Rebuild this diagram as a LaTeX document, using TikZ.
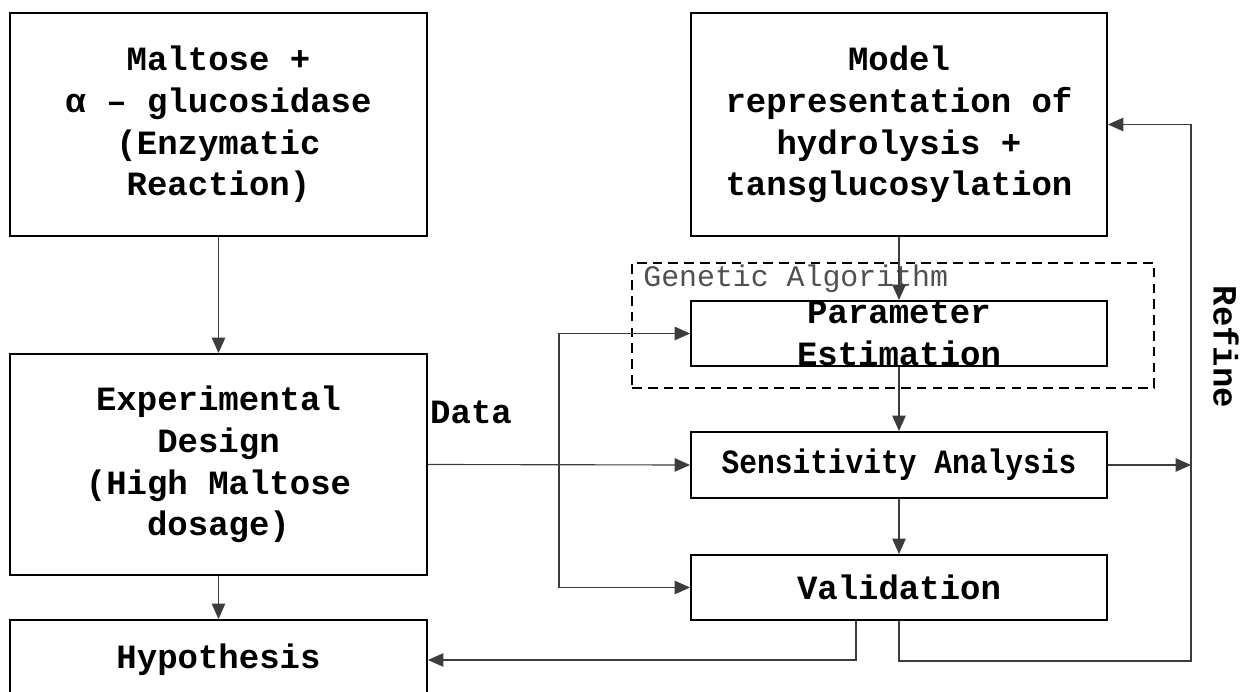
\documentclass[tikz,border=0pt]{standalone}
\usepackage{fontspec}
\setmainfont{Liberation Mono}
\newfontfamily\narrowmono[FakeStretch=0.87]{Liberation Mono}
\usetikzlibrary{positioning,arrows.meta,calc}
\definecolor{LineGrey}{RGB}{60,60,60}
\definecolor{LabelGrey}{RGB}{80,80,80}
\tikzset{
  flow/.style={-{Triangle[length=3.1mm,width=2.7mm]},line width=0.65pt,draw=LineGrey},
  biflow/.style={{Triangle[length=3.1mm,width=2.7mm]}-{Triangle[length=3.1mm,width=2.7mm]},
    line width=0.65pt,draw=LineGrey},
  box/.style={draw=black,line width=1.1pt,fill=white,align=center,inner sep=0pt,
    font=\fontsize{19.35}{23.7}\selectfont\bfseries},
  bigbox/.style={box,minimum width=8.34cm,minimum height=4.46cm},
  stepbox/.style={box,minimum width=8.32cm,minimum height=1.3cm},
  gabox/.style={draw=black,dashed,dash pattern=on 5.5pt off 3.5pt,line width=0.9pt,
    minimum width=10.44cm,minimum height=2.5cm,inner sep=0pt},
  tag/.style={font=\fontsize{19.35}{23.7}\selectfont\bfseries,inner sep=0pt}
}

\begin{document}
\begin{tikzpicture}[x=0.02cm,y=-0.02cm]
  \useasboundingbox (0,0) rectangle (1240,692);

  % left column
  \node[bigbox] (malt) at (218.5,124.5) {Maltose +\\α – glucosidase\\(Enzymatic\\Reaction)};
  \node[bigbox,minimum height=4.42cm] (expt) at (218.5,464.5) {Experimental\\Design\\(High Maltose\\dosage)};
  \node[box,minimum width=8.34cm,minimum height=1.6cm] (hypo) at (218.5,660) {Hypothesis};

  % right column
  \node[bigbox,minimum width=8.32cm] (model) at (899,124.5) {Model\\representation of\\hydrolysis +\\tansglucosylation};
  \node[gabox] (ga) at (893,325.5) {};
  \node[tag,font=\fontsize{17}{20}\selectfont,text=LabelGrey,anchor=west] (galabel) at (643,279) {Genetic Algorithm};
  \node[stepbox,label={[tag,align=center]center:Parameter\\Estimation}] (param) at (899,333.5) {};
  \node[stepbox,minimum height=1.32cm,font=\fontsize{19.35}{23.7}\narrowmono\bfseries] (sens) at (899,465) {Sensitivity Analysis};
  \node[stepbox] (valid) at (899,587.5) {Validation};

  \node[tag] (data) at (471,412) {Data};
  \node[tag,rotate=-90] (refine) at (1226,347) {Refine};
  \coordinate (split) at (559,465);
  \coordinate (loop) at (1191,661);

  \draw[flow] (malt) -- (expt);
  \draw[flow] (expt) -- (hypo);
  \draw[flow] (model) -- (param);
  \draw[flow] (param) -- (sens);
  \draw[flow] (sens) -- (valid);
  \draw[flow] (expt.east) -- (sens.west);
  \draw[biflow] (param.west) -| (split) |- (valid.west);
  \draw[flow] (sens.east) -- (sens.east -| loop);
  \draw[flow] (valid.south) |- (loop) |- (model.east);
  \draw[flow] ([xshift=-0.86cm]valid.south) |- (hypo.east);
\end{tikzpicture}
\end{document}
